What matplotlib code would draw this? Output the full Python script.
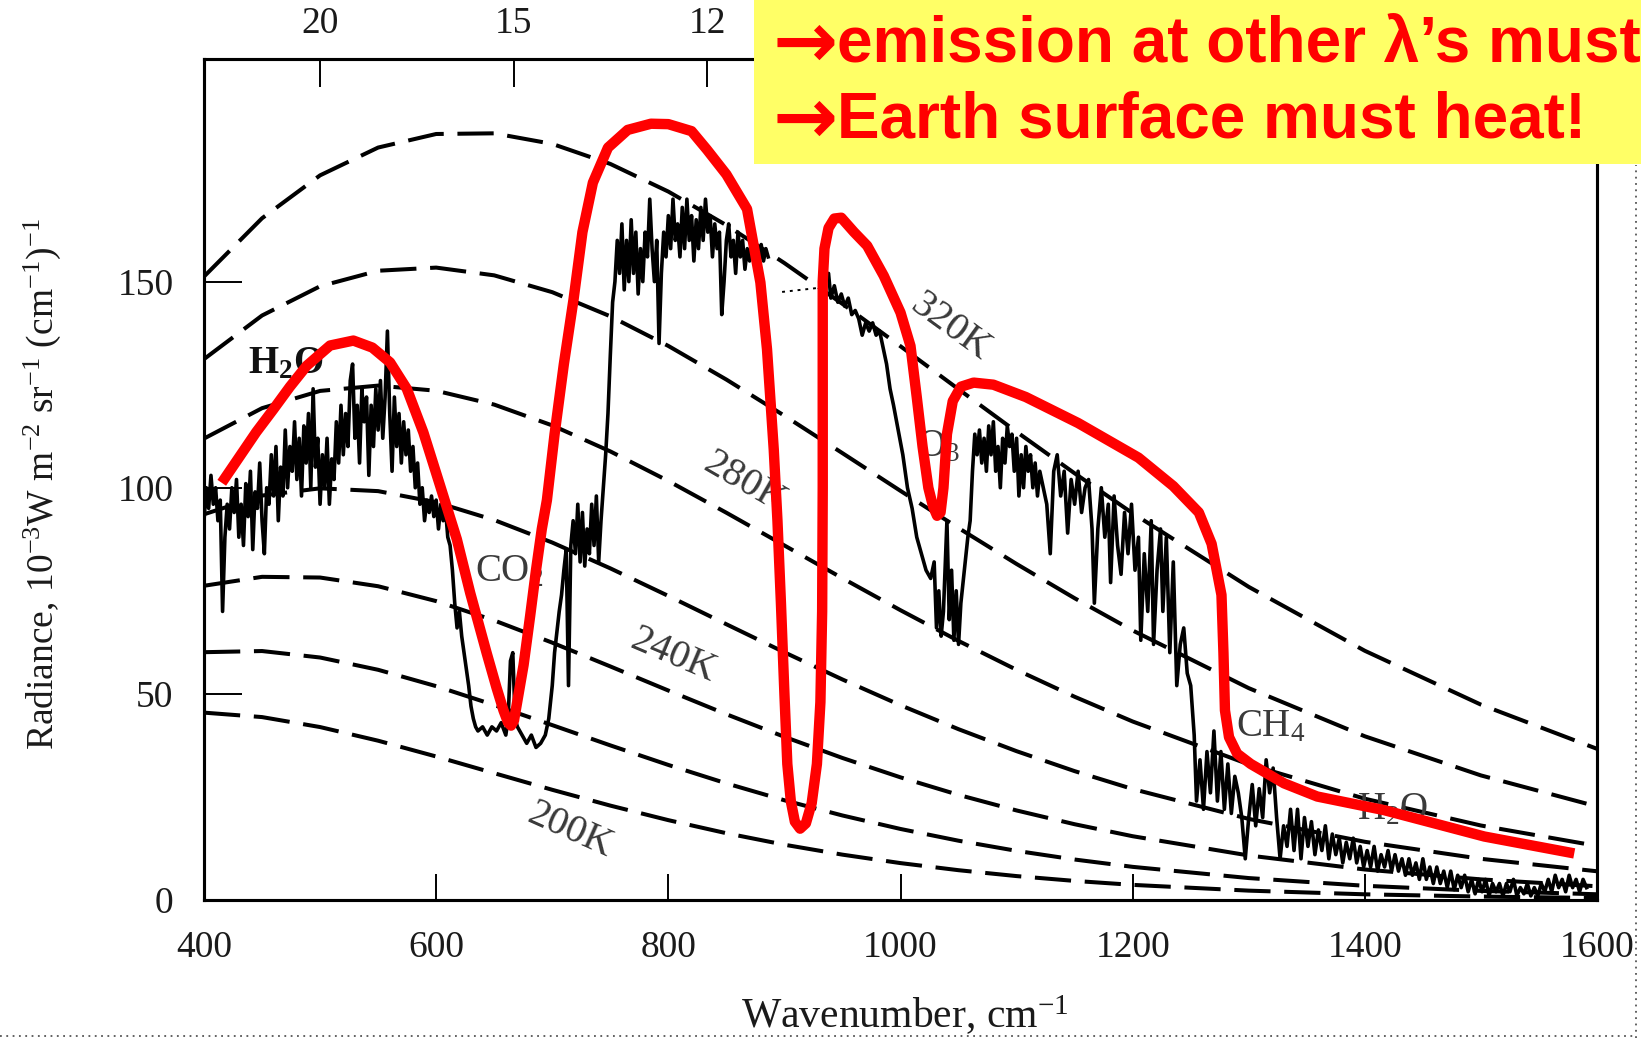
import matplotlib.pyplot as plt
from matplotlib.patches import Rectangle
from matplotlib.lines import Line2D

plt.rcParams['font.family'] = ['Liberation Serif', 'DejaVu Serif']
plt.rcParams['mathtext.fontset'] = 'custom'
plt.rcParams['mathtext.rm'] = 'Liberation Serif'
plt.rcParams['mathtext.it'] = 'Liberation Serif:italic'
plt.rcParams['mathtext.bf'] = 'Liberation Serif:bold'

# blackbody radiance (10^-3 W m^-2 sr^-1 (cm^-1)^-1) at the tabulated wavenumbers
bb_wn = [400, 450, 500, 550, 600, 650, 700, 750, 800, 850, 900, 950, 1000,
         1050, 1100, 1150, 1200, 1300, 1400, 1500, 1600]
bb_200 = [45.45, 44.37, 41.95, 38.64, 34.81, 30.76, 26.73, 22.90, 19.37, 16.20, 13.41,
          11.00, 8.95, 7.23, 5.80, 4.63, 3.67, 2.27, 1.38, 0.83, 0.49]
bb_220 = [60.11, 60.39, 58.82, 55.84, 51.87, 47.29, 42.42, 37.51, 32.76, 28.29, 24.19,
          20.50, 17.23, 14.38, 11.92, 9.82, 8.04, 5.32, 3.45, 2.21, 1.39]
bb_240 = [76.22, 78.39, 78.22, 76.11, 72.50, 67.81, 62.42, 56.66, 50.81, 45.06, 39.58,
          34.45, 29.75, 25.50, 21.72, 18.38, 15.47, 10.80, 7.40, 5.00, 3.33]
bb_260 = [93.56, 98.10, 99.86, 99.18, 96.47, 92.17, 86.71, 80.45, 73.76, 66.89, 60.08,
          53.49, 47.25, 41.43, 36.10, 31.26, 26.92, 19.67, 14.12, 9.99, 6.97]
bb_280 = [111.93, 119.30, 123.49, 124.78, 123.53, 120.17, 115.12, 108.82, 101.64, 93.94,
          86.00, 78.05, 70.29, 62.84, 55.83, 49.30, 43.30, 32.90, 24.57, 18.07, 13.12]
bb_300 = [131.20, 141.78, 148.87, 152.64, 153.40, 151.52, 147.44, 141.59, 134.40, 126.24,
          117.47, 108.39, 99.24, 90.23, 81.51, 73.20, 65.38, 51.39, 39.71, 30.22, 22.69]
bb_320 = [151.23, 165.37, 175.78, 182.52, 185.81, 185.97, 183.41, 178.55, 171.84, 163.69,
          154.50, 144.60, 134.32, 123.90, 113.57, 103.50, 93.81, 75.95, 60.45, 47.39, 36.67]
bb_curves = [bb_200, bb_220, bb_240, bb_260, bb_280, bb_300, bb_320]

# temperature labels: text, wavenumber, radiance, rotation
bb_labels = ["200K", "240K", "280K", "320K"]
bb_label_wn = [715, 804, 866, 1043]
bb_label_rad = [16.8, 59.3, 101.2, 138.8]
bb_label_rot = [-24, -23, -30, -36]

# measured spectrum, far-IR side up to the window
spec_wn_a = [400, 402, 404, 406, 408, 410, 412, 414, 416, 418, 420, 422, 424, 426, 428,
             430, 432, 434, 436, 438, 440, 442, 444, 446, 448, 450, 452, 454, 456, 458,
             460, 462, 464, 466, 468, 470, 472, 474, 476, 478, 480, 482, 484, 486, 488,
             490, 492, 494, 496, 498, 500, 502, 504, 506, 508, 510, 512, 514, 516, 518,
             520, 522, 524, 526, 528, 530, 532, 534, 536, 538, 540, 542, 544, 546, 548,
             550, 552, 554, 556, 558, 560, 562, 564, 566, 568, 570, 572, 574, 576, 578,
             580, 582, 584, 586, 588, 590, 592, 594, 596, 598, 600, 602, 604, 606, 608,
             610, 612, 614, 616, 618, 620, 622, 624, 626, 628, 630, 632, 634, 636, 640,
             644, 648, 652, 656, 660, 662, 664, 666, 668, 670, 674, 678, 682, 686, 690,
             694, 697, 700, 702, 704, 706, 708, 710, 712, 714, 716, 718, 720, 722, 724,
             726, 728, 730, 732, 734, 736, 738, 740, 742, 744, 746, 748, 750, 752, 754,
             756, 758, 760, 762, 764, 766, 768, 770, 772, 774, 776, 778, 780, 782, 784,
             786, 788, 790, 792, 794, 796, 798, 800, 802, 804, 806, 808, 810, 812, 814,
             816, 818, 820, 822, 824, 826, 828, 830, 832, 834, 836, 838, 840, 842, 844,
             846, 848, 850, 852, 854, 856, 858, 860, 862, 864, 866, 868, 870, 872, 874,
             876, 878, 880, 882, 884, 886]
spec_rad_a = [92, 100, 95, 103, 96, 100, 92, 97, 70, 88, 96, 90, 100, 94, 102,
              88, 96, 86, 101, 93, 104, 85, 99, 95, 106, 92, 84, 100, 96, 108,
              98, 110, 92, 105, 98, 114, 100, 110, 104, 116, 102, 112, 98, 115, 106,
              118, 100, 124, 105, 112, 96, 108, 100, 112, 96, 107, 102, 116, 106, 120,
              108, 118, 110, 126, 130, 112, 120, 106, 124, 116, 122, 103, 120, 110, 124,
              114, 126, 112, 122, 138, 118, 104, 122, 110, 118, 106, 116, 108, 114, 104,
              110, 100, 106, 96, 100, 92, 97, 94, 98, 93, 97, 90, 96, 92, 95,
              88, 86, 80, 72, 66, 70, 64, 60, 56, 52, 47, 44, 42, 41, 42,
              40, 42, 41, 43, 40, 44, 58, 60, 44, 42, 40, 38, 40, 37, 38,
              40, 44, 52, 60, 65, 70, 74, 80, 85, 52, 86, 92, 84, 96, 82,
              94, 81, 90, 84, 96, 86, 98, 82, 92, 100, 108, 118, 132, 145, 150,
              160, 152, 164, 148, 160, 150, 165, 152, 162, 147, 158, 150, 162, 156, 170,
              158, 150, 160, 135, 152, 162, 156, 166, 158, 170, 160, 164, 156, 168, 158,
              170, 160, 166, 155, 165, 158, 168, 160, 170, 162, 166, 156, 164, 158, 162,
              142, 150, 160, 164, 156, 160, 152, 162, 156, 160, 153, 158, 155, 160, 156,
              158, 154, 159, 155, 158, 156]

# measured spectrum, ozone band through the water-vapour band
spec_wn_b = [935, 938, 940, 943, 946, 949, 952, 955, 958, 961, 964, 967, 970, 973, 976,
             979, 982, 985, 988, 991, 994, 998, 1002, 1006, 1010, 1014, 1018, 1022, 1026,
             1029, 1031, 1033, 1035, 1037, 1040, 1042, 1044, 1046, 1048, 1050, 1052, 1055,
             1058, 1060, 1062, 1064, 1066, 1068, 1070, 1072, 1074, 1076, 1078, 1080, 1082,
             1084, 1086, 1088, 1090, 1092, 1094, 1096, 1098, 1100, 1102, 1104, 1106, 1108,
             1110, 1112, 1114, 1116, 1118, 1120, 1123, 1126, 1129, 1132, 1135, 1138, 1141,
             1144, 1147, 1150, 1153, 1156, 1159, 1162, 1165, 1167, 1170, 1173, 1176, 1179,
             1181, 1184, 1187, 1190, 1193, 1196, 1199, 1202, 1205, 1207, 1210, 1213, 1216,
             1218, 1221, 1224, 1226, 1229, 1232, 1235, 1238, 1241, 1244, 1247, 1250, 1253,
             1255, 1258, 1261, 1264, 1267, 1270, 1273, 1276, 1279, 1282, 1285, 1288, 1291,
             1294, 1297, 1300, 1303, 1306, 1309, 1312, 1315, 1318, 1321, 1324, 1327, 1330,
             1333, 1336, 1339, 1342, 1345, 1348, 1351, 1354, 1357, 1360, 1363, 1366, 1369,
             1372, 1375, 1378, 1381, 1384, 1387, 1390, 1393, 1396, 1399, 1402, 1405, 1408,
             1411, 1414, 1417, 1420, 1423, 1426, 1429, 1432, 1435, 1438, 1441, 1444, 1447,
             1450, 1453, 1456, 1459, 1462, 1465, 1468, 1471, 1474, 1477, 1480, 1483, 1486,
             1489, 1492, 1495, 1498, 1501, 1504, 1507, 1510, 1513, 1516, 1519, 1522, 1525,
             1528, 1531, 1534, 1537, 1540, 1543, 1546, 1549, 1552, 1555, 1558, 1561, 1564,
             1567, 1570, 1573, 1576, 1579, 1582, 1585, 1588, 1591]
spec_rad_b = [150, 152, 146, 149, 145, 147, 144, 146, 142, 143, 141, 137, 140, 138, 140,
              137, 138, 134, 130, 124, 120, 114, 108, 100, 95, 88, 84, 80, 78,
              82, 66, 75, 64, 70, 92, 68, 80, 63, 75, 62, 72, 80,
              88, 92, 104, 113, 108, 114, 106, 112, 104, 115, 108, 116, 104,
              110, 100, 112, 106, 115, 110, 113, 104, 112, 98, 108, 100, 110,
              104, 108, 100, 106, 98, 104, 100, 96, 84, 104, 108, 98, 104,
              89, 102, 96, 104, 94, 100, 102, 90, 72, 90, 100, 88, 96,
              77, 98, 86, 79, 94, 84, 96, 80, 88, 63, 84, 70, 92,
              62, 80, 90, 70, 88, 60, 82, 52, 62, 66, 55, 52, 40,
              24, 34, 22, 36, 26, 41, 24, 36, 22, 33, 21, 30, 26,
              20, 10, 20, 28, 18, 27, 20, 34, 26, 32, 20, 10, 18,
              13, 22, 12, 22, 10, 20, 13, 19, 11, 17, 12, 18, 10,
              16, 11, 15, 9, 14, 10, 15, 9, 13, 8, 12, 8, 13,
              7, 11, 8, 12, 7, 11, 7, 10, 6, 10, 6, 9, 5,
              10, 5, 8, 4, 8, 4, 7, 3, 7, 2.5, 6, 3, 6,
              2, 5, 1.5, 5, 2, 5, 1, 4, 2, 4, 1, 4, 2,
              5, 1, 3, 1.5, 4, 1, 3, 1, 4, 2, 5, 2, 6,
              3, 5, 2, 6, 3, 5, 2, 5, 3]

# faint dotted stretch between the two recorded pieces
gap_wn = [898, 930]
gap_rad = [147.5, 148.5]

# hand-drawn red outline over the spectrum
red_wn = [415.3, 431, 445, 459.7, 474, 488.5, 508.6, 528.7, 545, 560.3, 574.7, 589, 603.4,
          617.8, 629.3, 643.6, 652, 658, 662, 664.5, 667, 671, 675.3, 681, 686, 691, 695.4,
          702, 710, 718.4, 726, 735, 748, 765, 785, 800, 820, 833.3, 850, 867.8, 879.3,
          885, 890.8, 894, 897, 900, 902.5, 905.5, 909, 913.5, 918.5, 923.5, 928, 931,
          932.5, 933, 933, 933, 934.5, 938, 943, 949, 960, 971.3, 985.6, 1000, 1008.6,
          1014, 1019, 1024, 1028, 1031.5, 1034.5, 1037, 1040, 1045, 1052, 1063, 1080,
          1108, 1153, 1205, 1235, 1257, 1268, 1276.5, 1278.2, 1279.5, 1283, 1290, 1301.7,
          1330.4, 1359, 1416.6, 1459.8, 1502.9, 1580.4]
red_rad = [101.2, 107.7, 113.5, 119, 124.5, 129.6, 134.5, 135.7, 134, 130.4, 124, 113.4, 100.5,
           87.5, 74.5, 59.8, 51.5, 46, 43, 42.3, 43.5, 50, 57, 69, 80, 90, 97,
           113, 130, 145.8, 162, 174, 182.5, 186.8, 188.3, 188.2, 186.5, 182, 176, 167.6, 149.8,
           133.6, 109.3, 92, 72, 50, 33, 24, 19, 17.3, 18.6, 23.5, 33, 48,
           70, 100, 130, 150, 158, 163, 165.3, 165.5, 162, 158.7, 151.4, 142.5, 134.4,
           122, 110, 100, 95.5, 93.2, 94, 100, 113, 121, 124.5, 125.5, 125,
           122, 115.7, 107.3, 100.4, 94, 86.4, 74, 60, 46, 39.5, 35.5, 33,
           28.3, 25.1, 21.8, 18.6, 15.4, 11.3]

# gas band labels: mathtext, wavenumber, radiance, weight
gas_labels = [r"H$_\mathbf{2}$O", r"CO$_2$", r"O$_3$", r"CH$_4$", r"H$_2$O"]
gas_wn = [470, 663, 1033, 1319, 1424]
gas_rad = [130, 79.5, 110, 42, 22]
gas_weight = ["bold", "normal", "normal", "normal", "normal"]

x_ticks = [400, 600, 800, 1000, 1200, 1400, 1600]
y_ticks = [0, 50, 100, 150]
top_um = [20, 15, 12]

W, H = 1641, 1038
fig = plt.figure(figsize=(W / 100, H / 100), dpi=100)
ax = fig.add_axes([204 / W, 1 - 900 / H, (1597 - 204) / W, (900 - 59) / H])

for curve in bb_curves:
    ax.plot(bb_wn, curve, color="black", lw=2.9, dashes=(9.0, 3.4),
            solid_capstyle="butt", dash_capstyle="butt", zorder=2)

ax.plot(spec_wn_a, spec_rad_a, color="black", lw=2.6, zorder=3)
ax.plot(spec_wn_b, spec_rad_b, color="black", lw=2.6, zorder=3)
ax.plot(gap_wn, gap_rad, color="black", lw=1.4, ls=(0, (1.5, 2.5)), zorder=3)

for txt, x, y, r in zip(bb_labels, bb_label_wn, bb_label_rad, bb_label_rot):
    ax.text(x, y, txt, rotation=r, fontsize=29, color="#3a3a3a",
            ha="center", va="center", rotation_mode="anchor", zorder=4)

for txt, x, y, w in zip(gas_labels, gas_wn, gas_rad, gas_weight):
    ax.text(x, y, txt, fontsize=28, fontweight=w,
            color="#111111" if w == "bold" else "#3a3a3a",
            ha="center", va="center", zorder=4)

ax.plot(red_wn, red_rad, color="#ff0000", lw=7.5, solid_capstyle="butt",
        solid_joinstyle="round", zorder=6)

ax.set_xlim(400, 1600)
ax.set_ylim(0, 204)
ax.set_xticks(x_ticks)
ax.set_yticks(y_ticks)
ax.tick_params(axis="x", direction="in", length=19, width=1.4, pad=22,
               labelsize=27, labelcolor="#1a1a1a")
ax.tick_params(axis="y", direction="in", length=27, width=1.4, pad=22,
               labelsize=27, labelcolor="#1a1a1a")
for s in ax.spines.values():
    s.set_linewidth(2.2)

ax2 = ax.twiny()
ax2.set_xlim(ax.get_xlim())
ax2.set_xticks([1e4 / w for w in top_um])
ax2.set_xticklabels([str(w) for w in top_um])
ax2.tick_params(axis="x", direction="in", length=20, width=1.4, pad=13,
                labelsize=27, labelcolor="#1a1a1a")
for s in ax2.spines.values():
    s.set_linewidth(2.2)

fig.text(42 / W, 1 - 484 / H,
         r"Radiance, 10$^{-3}$W m$^{-2}$ sr$^{-1}$ (cm$^{-1}$)$^{-1}$",
         rotation=90, ha="center", va="center", fontsize=27, color="#1a1a1a")
fig.text(905 / W, 1 - 1015 / H, r"Wavenumber, cm$^{-1}$",
         ha="center", va="center", fontsize=30, color="#1a1a1a")

# callout box over the upper right of the chart
fig.patches.append(Rectangle((753.5 / W, 1 - 164.3 / H), 1, 164.3 / H,
                             transform=fig.transFigure, facecolor="#ffff66",
                             edgecolor="none", zorder=10))
callout = ["emission at other \u03bb\u2019s must", "Earth surface must heat!"]
callout_base = [62, 138]
for line, yb in zip(callout, callout_base):
    fig.text(773 / W, 1 - (yb + 5) / H, "\u2192", ha="left", va="baseline", fontsize=56,
             fontweight="bold", color="#ff0000", family=["DejaVu Sans"], zorder=11)
    fig.text(837 / W, 1 - yb / H, line, ha="left", va="baseline", fontsize=46,
             fontweight="bold", color="#ff0000", family=["Liberation Sans", "DejaVu Sans"],
             zorder=11)

# dotted slide placeholder edges
fig.lines.append(Line2D([1636 / W, 1636 / W], [0, 1 - 165 / H], transform=fig.transFigure,
                        color="#555555", lw=1.3, ls=(0, (1, 2.5)), zorder=9))
fig.lines.append(Line2D([0, 1636 / W], [1 - 1036 / H, 1 - 1036 / H], transform=fig.transFigure,
                        color="#555555", lw=1.3, ls=(0, (1, 2.5)), zorder=9))

fig.savefig("out.png", dpi=100)
